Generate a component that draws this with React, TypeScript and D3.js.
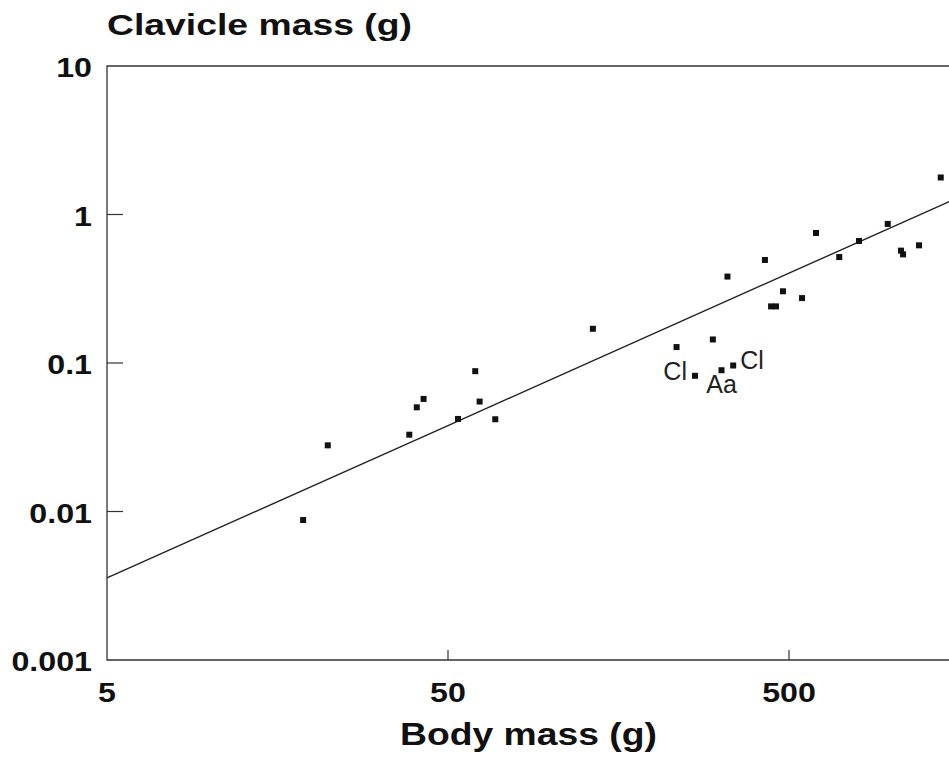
import React from "react";
import * as d3 from "d3";

// body mass (g) and clavicle mass (g)
const bodyMass = [
  18.8, 22.2, 38.5, 40.5, 42.4, 53.5, 60.1, 61.9, 68.8, 133, 234, 265, 299, 317,
  343, 330, 425, 443, 458, 480, 546, 600, 702, 802, 974, 1065, 1080, 1203, 1393,
];
const clavicleMass = [
  0.00876, 0.0279, 0.0329, 0.0503, 0.0573, 0.042, 0.0881, 0.055, 0.0418, 0.17,
  0.128, 0.082, 0.144, 0.0894, 0.0962, 0.382, 0.494, 0.2405, 0.2405, 0.304,
  0.2736, 0.751, 0.517, 0.663, 0.864, 0.571, 0.539, 0.62, 1.775,
];

// fitted allometric line y = a * x^b
const fitA = 0.000685;
const fitB = 1.026;

// point annotations
const labelText = ["Cl", "Aa", "Cl"];
const labelPoint = [11, 13, 14];

const xTicks = [5, 50, 500];
const yTicks = [10, 1, 0.1, 0.01, 0.001];

// where each label sits relative to its point
const labelOffsets = [
  { dx: -8, dy: 4, anchor: "end" },
  { dx: 0, dy: 23, anchor: "middle" },
  { dx: 7, dy: 4, anchor: "start" },
];

const W = 949;
const H = 770;
const boldFont = "'Liberation Sans', Arial, Helvetica, sans-serif";
const STRETCH = 1.15;

const WideText = ({ x, y, anchor, children, size = 28 }) => (
  <text
    transform={`translate(${x},${y}) scale(${STRETCH},1)`}
    textAnchor={anchor}
    fontFamily={boldFont}
    fontWeight="bold"
    fontSize={size}
    fill="#111"
  >
    {children}
  </text>
);

const App = () => {
  const left = 107;
  const top = 66;
  const bottom = 660;

  const xScale = d3
    .scaleLog()
    .domain([5, 1500])
    .range([left, left + 341 * Math.log10(1500 / 5)]);
  const yScale = d3.scaleLog().domain([0.001, 10]).range([bottom, top]);
  const right = xScale.range()[1];

  const fitLine = d3
    .line()
    .x((d) => xScale(d))
    .y((d) => yScale(fitA * Math.pow(d, fitB)));
  const lineXs = [5, 50, 500, 1500];

  const fmt = (v) => (v >= 1 ? String(v) : v.toFixed(Math.round(-Math.log10(v))));

  return (
    <svg
      width={W}
      height={H}
      style={{ position: "absolute", left: 0, top: 0, background: "#fff" }}
    >
      <rect width={W} height={H} fill="#fff" />

      {/* frame */}
      <path
        d={`M${left},${top}H${right}V${bottom}H${left}Z`}
        fill="none"
        stroke="#333"
        strokeWidth={1.3}
      />

      {/* y ticks */}
      {yTicks.map((t) => (
        <g key={"y" + t}>
          {t < 10 && t > 0.001 && (
            <line
              x1={left}
              x2={left + 16}
              y1={yScale(t)}
              y2={yScale(t)}
              stroke="#333"
              strokeWidth={1.2}
            />
          )}
          <WideText x={92} y={yScale(t) + 11} anchor="end">
            {fmt(t)}
          </WideText>
        </g>
      ))}

      {/* x ticks */}
      {xTicks.map((t) => (
        <g key={"x" + t}>
          {t > 5 && (
            <line
              x1={xScale(t)}
              x2={xScale(t)}
              y1={bottom}
              y2={bottom - 10}
              stroke="#333"
              strokeWidth={1.2}
            />
          )}
          <WideText x={xScale(t)} y={702} anchor="middle">
            {t}
          </WideText>
        </g>
      ))}

      {/* fitted line */}
      <path d={fitLine(lineXs)} fill="none" stroke="#222" strokeWidth={1.4} />

      {/* points */}
      {bodyMass.map((bm, i) => (
        <rect
          key={i}
          x={xScale(bm) - 3}
          y={yScale(clavicleMass[i]) - 3}
          width={6}
          height={6}
          fill="#111"
        />
      ))}

      {/* annotations */}
      {labelText.map((txt, i) => {
        const p = labelPoint[i];
        const o = labelOffsets[i];
        return (
          <text
            key={"l" + i}
            x={xScale(bodyMass[p]) + o.dx}
            y={yScale(clavicleMass[p]) + o.dy}
            textAnchor={o.anchor}
            fontFamily={boldFont}
            fontSize={25}
            fill="#222"
          >
            {txt}
          </text>
        );
      })}

      {/* axis titles */}
      <text
        x={107}
        y={35}
        textLength={305}
        lengthAdjust="spacingAndGlyphs"
        fontFamily={boldFont}
        fontWeight="bold"
        fontSize={29}
        fill="#111"
      >
        Clavicle mass (g)
      </text>
      <text
        x={400}
        y={745}
        textLength={257}
        lengthAdjust="spacingAndGlyphs"
        fontFamily={boldFont}
        fontWeight="bold"
        fontSize={31}
        fill="#111"
      >
        Body mass (g)
      </text>
    </svg>
  );
};

export default App;
